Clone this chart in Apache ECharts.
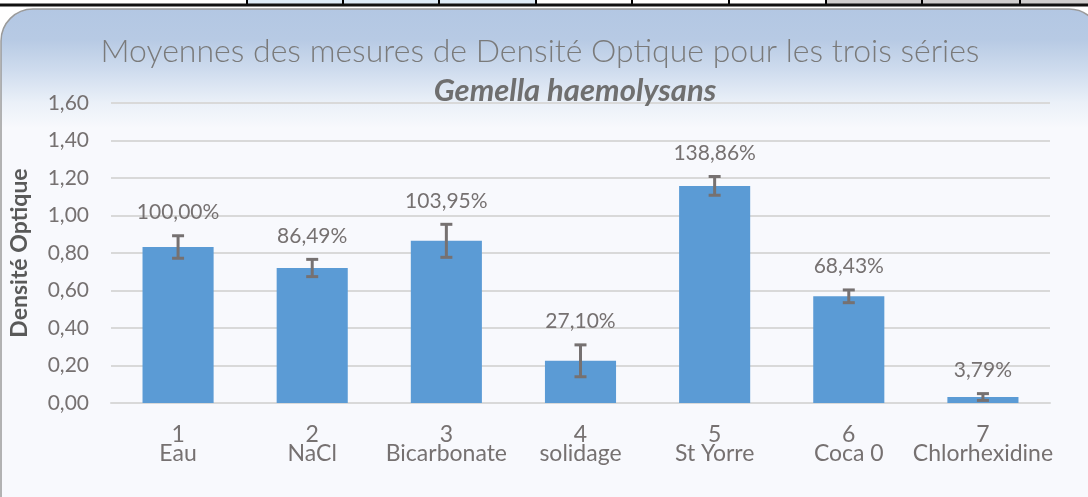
<!DOCTYPE html>
<html>
<head>
<meta charset="utf-8">
<script src="https://cdn.jsdelivr.net/npm/echarts@6/dist/echarts.min.js"></script>
<style>
  html, body { margin: 0; padding: 0; background: #ffffff; }
  #chart { width: 1088px; height: 497px; }
</style>
</head>
<body>
<div id="chart"></div>
<script>
const numbers = ["1", "2", "3", "4", "5", "6", "7"];
const categories = ["Eau", "NaCl", "Bicarbonate", "solidage", "St Yorre", "Coca 0", "Chlorhexidine"];
const means = [0.832, 0.72, 0.865, 0.225, 1.158, 0.569, 0.032];
const errors = [0.06, 0.046, 0.088, 0.085, 0.05, 0.034, 0.018];
const percentLabels = ["100,00%", "86,49%", "103,95%", "27,10%", "138,86%", "68,43%", "3,79%"];
const yTicks = [0, 0.2, 0.4, 0.6, 0.8, 1.0, 1.2, 1.4, 1.6];

const font = "Lato, 'Open Sans', sans-serif";
const grey = "#767171";

const chart = echarts.init(document.getElementById("chart"), null, { renderer: "canvas" });

// spreadsheet cells peeking above the chart frame
const cellEdges = [247, 343, 439, 536, 632, 729, 826, 922, 1020];
const cells = [];
for (let i = 0; i < cellEdges.length; i++) {
  const x0 = cellEdges[i];
  const x1 = cellEdges[i + 1] || 1088;
  let fill = "#ffffff";
  if (i < 3) fill = "#ddebf7";
  if (i >= 6) fill = "#d0cece";
  cells.push({ type: "rect", shape: { x: x0, y: 0, width: x1 - x0, height: 5 }, style: { fill: fill }, z: -5 });
  cells.push({ type: "line", shape: { x1: x0, y1: 0, x2: x0, y2: 5 }, style: { stroke: "#000", lineWidth: 2 }, z: -4 });
}

chart.setOption({
  backgroundColor: "#ffffff",
  animation: false,
  graphic: [
    ...cells,
    { type: "line", shape: { x1: 0, y1: 5, x2: 1088, y2: 5 }, style: { stroke: "#111", lineWidth: 3 }, z: -4 },
    {
      type: "rect",
      shape: { x: 1, y: 9, width: 1100, height: 520, r: 32 },
      style: {
        fill: new echarts.graphic.LinearGradient(0, 0, 0, 1, [
          { offset: 0, color: "#b3c7e3" },
          { offset: 0.06, color: "#b7cae4" },
          { offset: 0.12, color: "#cfdcee" },
          { offset: 0.18, color: "#eaf0f8" },
          { offset: 0.23, color: "#f8f9fd" },
          { offset: 1, color: "#f8f9fd" }
        ]),
        stroke: "#9a9a9a",
        lineWidth: 1.5
      },
      z: -10
    }
  ],
  title: [
    {
      text: "Moyennes des mesures de Densité Optique pour les trois séries",
      left: 535,
      textAlign: "center",
      top: 31,
      textStyle: { color: "#7a7a7a", fontFamily: font, fontSize: 32, fontWeight: 300 }
    },
    {
      text: "Gemella haemolysans",
      left: 570,
      textAlign: "center",
      top: 70,
      textStyle: { color: "#6f6f6f", fontFamily: font, fontSize: 31, fontWeight: "bold", fontStyle: "italic" }
    }
  ],
  grid: { left: 108, right: 38, top: 103, bottom: 94, containLabel: false },
  xAxis: {
    type: "category",
    data: categories.map((c, i) => numbers[i] + "\n" + c),
    axisLine: { lineStyle: { color: "#d9d9d9", width: 2 } },
    axisTick: { show: false },
    axisLabel: { color: grey, fontFamily: font, fontSize: 23, lineHeight: 19, margin: 22, interval: 0 }
  },
  yAxis: {
    type: "value",
    min: 0,
    max: 1.6,
    interval: 0.2,
    name: "Densité Optique",
    nameLocation: "middle",
    nameGap: 80,
    nameTextStyle: { color: "#595959", fontFamily: font, fontSize: 23, fontWeight: "bold" },
    axisLine: { show: false },
    axisTick: { show: false },
    axisLabel: {
      color: grey, fontFamily: font, fontSize: 21, margin: 22,
      formatter: v => yTicks.includes(Math.round(v * 10) / 10) ? v.toFixed(2).replace(".", ",") : ""
    },
    splitLine: { lineStyle: { color: "#d9d9d9", width: 2 } }
  },
  series: [
    {
      type: "bar",
      data: means,
      barWidth: "53%",
      itemStyle: { color: "#5b9bd5" }
    },
    {
      type: "custom",
      data: means.map((m, i) => [i, m - errors[i], m + errors[i]]),
      z: 5,
      renderItem: (params, api) => {
        const i = api.value(0);
        const lo = api.coord([i, api.value(1)]);
        const hi = api.coord([i, api.value(2)]);
        const x = lo[0];
        const half = 6;
        const st = { stroke: "#767171", lineWidth: 3 };
        return {
          type: "group",
          children: [
            { type: "line", shape: { x1: x, y1: hi[1], x2: x, y2: lo[1] }, style: st },
            { type: "line", shape: { x1: x - half, y1: hi[1], x2: x + half, y2: hi[1] }, style: st },
            { type: "line", shape: { x1: x - half, y1: lo[1], x2: x + half, y2: lo[1] }, style: st },
            {
              type: "text",
              style: {
                text: percentLabels[i], x: x, y: hi[1] - 13,
                align: "center", verticalAlign: "bottom",
                fill: grey, font: "21px " + font
              }
            }
          ]
        };
      }
    }
  ]
});
</script>
</body>
</html>
